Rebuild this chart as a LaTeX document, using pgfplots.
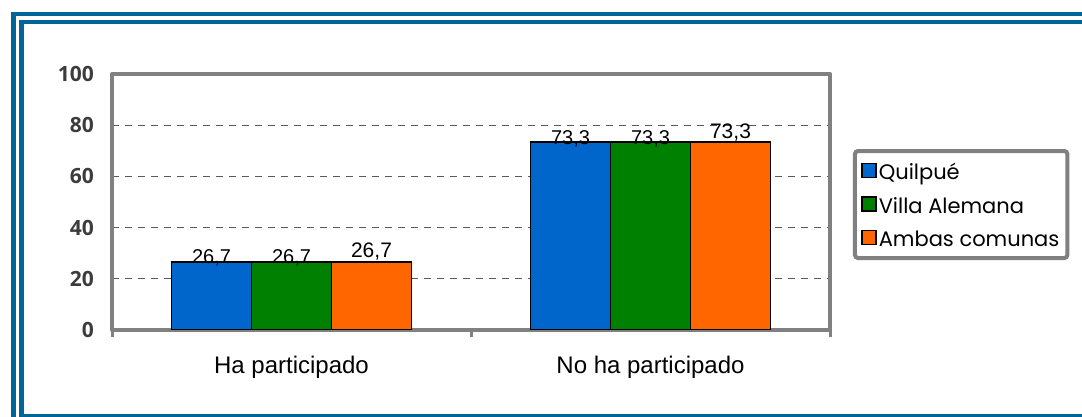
\documentclass[border=0pt]{standalone}
\usepackage{fontspec}
\setmainfont{Liberation Sans}
\newfontfamily\tickfont{Open Sans}
\newfontfamily\legfont{Poppins}
\usepackage{pgfplots}
\pgfplotsset{compat=1.18}
\definecolor{frameblue}{RGB}{0,102,153}
\definecolor{axgray}{RGB}{128,128,128}
\definecolor{ticktext}{RGB}{60,60,60}
\definecolor{qblue}{RGB}{0,102,204}
\definecolor{vgreen}{RGB}{0,128,0}
\definecolor{aorange}{RGB}{255,102,0}
\pgfplotsset{
  mybar/.style={ybar, bar width=80bp, bar shift=0pt, draw=black, line width=1.8bp,
    legend image code/.code={\draw[##1, line width=1.8bp, draw=black, sharp corners] (0bp,-6.5bp) rectangle (14bp,7.5bp);}},
}
\begin{document}
\begin{tikzpicture}
\useasboundingbox (0bp,0bp) rectangle (1082bp,417bp);
\draw[frameblue, line width=4.5bp] (13.5bp,-20bp) -- (13.5bp,403bp) -- (1100bp,403bp);
\draw[frameblue, line width=4.5bp] (1100bp,0.5bp) -- (21.5bp,0.5bp) -- (21.5bp,395bp) -- (1100bp,395bp);
\begin{axis}[
  at={(112bp,87bp)}, anchor=south west,
  scale only axis, width=718bp, height=256bp,
  xmin=0, xmax=2, ymin=0, ymax=100,
  axis line style={draw=axgray, line width=4bp, line join=round},
  ytick={0,20,40,60,80,100},
  ytick style={draw=none},
  ymajorgrids,
  grid style={draw=black!65, line width=1.1bp, dash pattern=on 7bp off 6bp},
  xtick={0.5,1.5},
  xticklabels={Ha participado, No ha participado},
  xtick pos=left,
  extra x ticks={0,1,2},
  extra x tick labels={},
  extra x tick style={tick align=outside, major tick length=7bp, tick style={draw=axgray, line width=3bp}},
  major tick length=0pt,
  /pgf/number format/assume math mode=true,
  /pgf/number format/use comma,
  /pgf/number format/fixed,
  /pgf/number format/precision=1,
  /pgf/number format/fixed zerofill,
  yticklabel style={font=\tickfont\bfseries\fontsize{21bp}{24bp}\selectfont, text=ticktext, inner sep=0pt, xshift=-18bp, /pgf/number format/precision=0, /pgf/number format/fixed zerofill=false},
  xticklabel style={font=\fontsize{24bp}{28bp}\selectfont, inner sep=0pt, yshift=-26bp},
  legend cell align=left,
  legend style={at={(1.032,0.707)}, anchor=north west, draw=axgray, line width=4bp, rounded corners=3bp,
    inner xsep=6bp, inner ysep=9.5bp, row sep=12.5bp,
    font=\legfont\fontsize{21bp}{24bp}\selectfont,
    nodes={inner xsep=2bp, inner ysep=2bp, text height=17bp, text depth=0bp}},
]
% labels for the first two series, drawn behind the bars
\addplot[mybar, draw=none, fill=none, forget plot, nodes near coords,
  nodes near coords style={font=\fontsize{20bp}{24bp}\selectfont, anchor=base, inner sep=0pt, yshift=-2bp, text=black}]
  coordinates {(0.27716,26.7) (1.27716,73.3)};
\addplot[mybar, draw=none, fill=none, forget plot, nodes near coords,
  nodes near coords style={font=\fontsize{20bp}{24bp}\selectfont, anchor=base, inner sep=0pt, yshift=-2bp, text=black}]
  coordinates {(0.5,26.7) (1.5,73.3)};
\addplot[mybar, fill=qblue] coordinates {(0.27716,26.7) (1.27716,73.3)};
\addplot[mybar, fill=vgreen] coordinates {(0.5,26.7) (1.5,73.3)};
\addplot[mybar, fill=aorange, nodes near coords,
  nodes near coords style={font=\fontsize{21bp}{24bp}\selectfont, anchor=base, inner sep=0pt, yshift=4bp, text=black}]
  coordinates {(0.72284,26.7) (1.72284,73.3)};
\legend{Quilpué, Villa Alemana, Ambas comunas}
\end{axis}
\end{tikzpicture}
\end{document}
